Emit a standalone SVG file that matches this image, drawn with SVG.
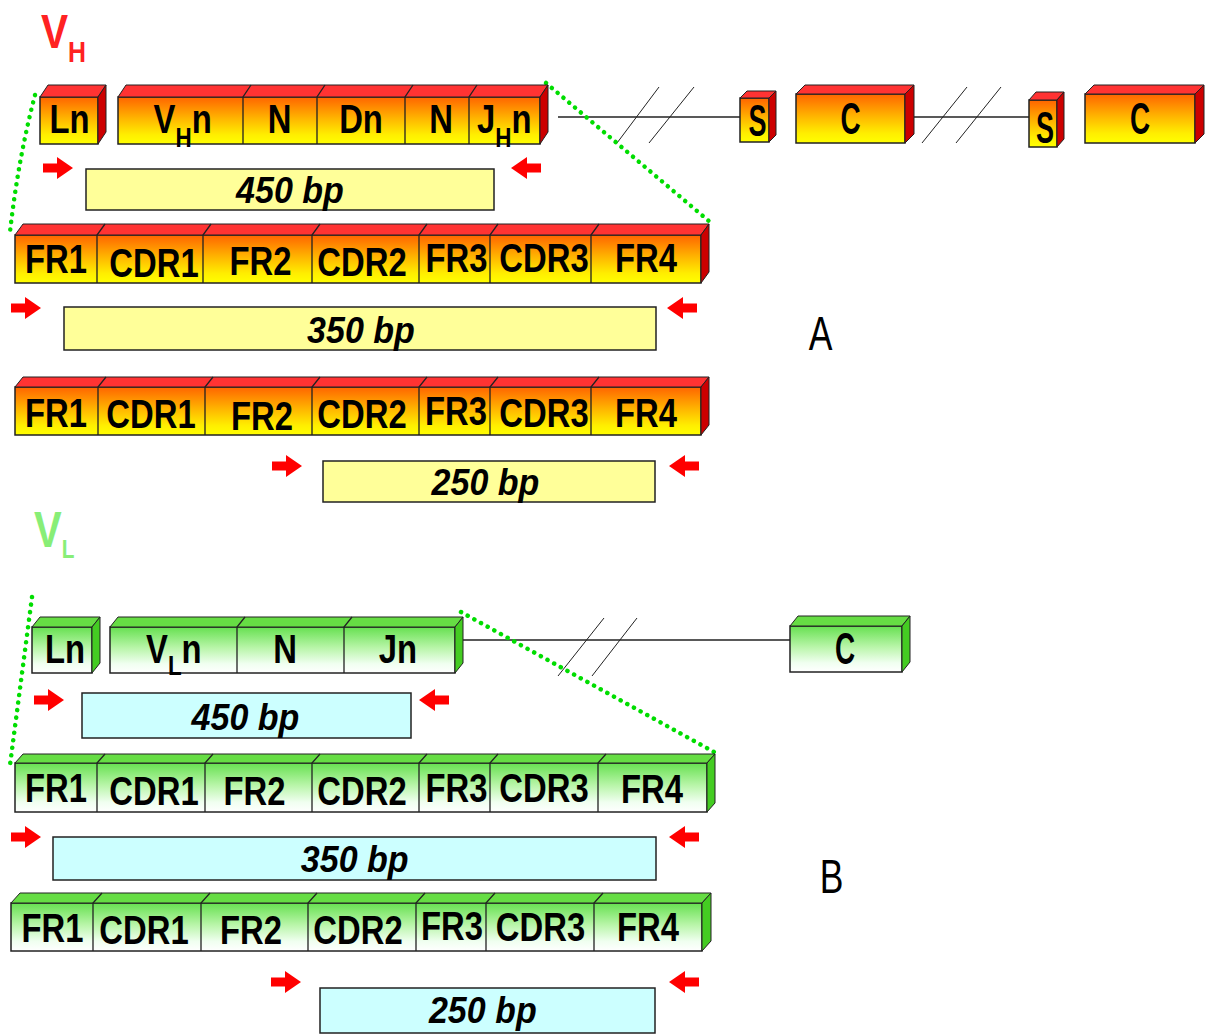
<svg xmlns="http://www.w3.org/2000/svg" xmlns:xlink="http://www.w3.org/1999/xlink" width="1209" height="1035" viewBox="0 0 1209 1035">
<defs>
<linearGradient id="gR" x1="0" y1="0" x2="0" y2="1">
<stop offset="0" stop-color="#ff6400"/><stop offset="0.45" stop-color="#ffb400"/><stop offset="0.8" stop-color="#ffee00"/><stop offset="1" stop-color="#ffff00"/>
</linearGradient>
<linearGradient id="gG" x1="0" y1="0" x2="0" y2="1">
<stop offset="0" stop-color="#66e050"/><stop offset="0.45" stop-color="#b8f5a8"/><stop offset="0.8" stop-color="#f0fff0"/><stop offset="1" stop-color="#ffffff"/>
</linearGradient>
<path id="arR" d="M0,-4.5 H14 V-11 L30,0 L14,11 V4.5 H0 Z" fill="#ff0000"/>
<path id="arL" d="M30,-4.5 H16 V-11 L0,0 L16,11 V4.5 H30 Z" fill="#ff0000"/>
<style>
.fr{fill:url(#gR);stroke:#222;stroke-width:1.5}
.tr{fill:#ff3333;stroke:#222;stroke-width:1}
.sr{fill:#cc0000;stroke:#222;stroke-width:1}
.fg{fill:url(#gG);stroke:#222;stroke-width:1.5}
.tg{fill:#66dd44;stroke:#222;stroke-width:1}
.sg{fill:#44cc22;stroke:#222;stroke-width:1}
.dv{stroke:#222;stroke-width:1.3;fill:none}
.lb{font-family:"Liberation Sans",Arial,sans-serif;font-weight:bold;font-size:41px;text-anchor:middle;fill:#000}
.ls{font-family:"Liberation Sans",Arial,sans-serif;font-weight:bold;font-size:41px;text-anchor:start;fill:#000}
.sc{font-size:45px}
.sub{font-size:28px}
.bp{font-family:"Liberation Sans",Arial,sans-serif;font-weight:bold;font-style:italic;font-size:37px;text-anchor:middle;fill:#000}
.yb{fill:#ffff99;stroke:#222;stroke-width:1.5}
.cb{fill:#ccffff;stroke:#222;stroke-width:1.5}
.ln{stroke:#222;stroke-width:1.3;fill:none}
.sl{stroke:#222;stroke-width:1;fill:none}
.dot{stroke:#00dd00;stroke-width:4.5;stroke-linecap:round;stroke-dasharray:0.1 7.5;fill:none}
.big{font-family:"Liberation Sans",Arial,sans-serif;font-size:48px;text-anchor:middle;fill:#000}
</style>
</defs>
<rect width="1209" height="1035" fill="#ffffff"/>

<!-- titles -->
<g id="title-vh">
<text transform="translate(41 48) scale(0.83 1)" style="font-family:'Liberation Sans',Arial,sans-serif;font-weight:bold;font-size:49px;fill:#ff2222">V<tspan style="font-size:30px" dy="14">H</tspan></text>
</g>
<g id="title-vl">
<text transform="translate(34 547) scale(0.83 1)" style="font-family:'Liberation Sans',Arial,sans-serif;font-weight:bold;font-size:50px;fill:#88ee77">V<tspan style="font-size:25px" dy="11">L</tspan></text>
</g>
<g id="label-a"><text class="big" transform="translate(820.5 350) scale(0.74 1)">A</text></g>
<g id="label-b"><text class="big" transform="translate(831.5 893) scale(0.74 1)">B</text></g>

<!-- connectors -->
<g id="connectors">
<line class="ln" x1="558" y1="117" x2="740" y2="117"/>
<line class="ln" x1="914" y1="117" x2="1029" y2="117"/>
<line class="sl" x1="617" y1="143" x2="659" y2="87"/>
<line class="sl" x1="649" y1="143" x2="694" y2="87"/>
<line class="sl" x1="922" y1="143" x2="967" y2="87"/>
<line class="sl" x1="956" y1="143" x2="1001" y2="87"/>
<line class="ln" x1="463" y1="640" x2="790" y2="640"/>
<line class="sl" x1="558" y1="676" x2="604" y2="618"/>
<line class="sl" x1="592" y1="676" x2="637" y2="618"/>
<path class="dot" d="M35,95 Q18,160 10,232"/>
<line class="dot" x1="546" y1="83" x2="710" y2="222"/>
<line class="dot" x1="32" y1="597" x2="10" y2="765"/>
<line class="dot" x1="461" y1="612" x2="714" y2="752"/>
</g>

<!-- VH gene -->
<g id="vh-ln">
<rect class="fr" x="40" y="97" width="58" height="47"/>
<polygon class="tr" points="40,97 48,85 106,85 98,97"/>
<polygon class="sr" points="98,97 106,85 106,132 98,144"/>
<text class="lb" transform="translate(69.5 133) scale(0.8 1)">Ln</text>
</g>
<g id="vh-vdj">
<rect class="fr" x="118" y="97" width="422" height="47"/>
<polygon class="tr" points="118,97 126,85 548,85 540,97"/>
<polygon class="sr" points="540,97 548,85 548,132 540,144"/>
<path class="dv" d="M243,144V97L251,85M317,144V97L325,85M405,144V97L413,85M469,144V97L477,85"/>
<text class="ls" transform="translate(153.6 133) scale(0.8 1)">V<tspan class="sub" dy="14">H</tspan><tspan dy="-14">n</tspan></text>
<text class="lb" transform="translate(279.5 133) scale(0.8 1)">N</text>
<text class="lb" transform="translate(361 133) scale(0.8 1)">Dn</text>
<text class="lb" transform="translate(441 133) scale(0.8 1)">N</text>
<text class="ls" transform="translate(477 133) scale(0.8 1)">J<tspan class="sub" dy="14">H</tspan><tspan dy="-14">n</tspan></text>
</g>
<g id="vh-s1">
<rect class="fr" x="740" y="98" width="29" height="44"/>
<polygon class="tr" points="740,98 747,91 776,91 769,98"/>
<polygon class="sr" points="769,98 776,91 776,135 769,142"/>
<text class="lb sc" transform="translate(757.5 136) scale(0.6 1)">S</text>
</g>
<g id="vh-c1">
<rect class="fr" x="796" y="94" width="109" height="49"/>
<polygon class="tr" points="796,94 805,85 914,85 905,94"/>
<polygon class="sr" points="905,94 914,85 914,134 905,143"/>
<text class="lb sc" transform="translate(850.5 134) scale(0.62 1)">C</text>
</g>
<g id="vh-s2">
<rect class="fr" x="1029" y="100" width="28" height="47"/>
<polygon class="tr" points="1029,100 1036,92 1064,92 1057,100"/>
<polygon class="sr" points="1057,100 1064,92 1064,139 1057,147"/>
<text class="lb sc" transform="translate(1045 143) scale(0.6 1)">S</text>
</g>
<g id="vh-c2">
<rect class="fr" x="1085" y="94" width="110" height="49"/>
<polygon class="tr" points="1085,94 1094,85 1204,85 1195,94"/>
<polygon class="sr" points="1195,94 1204,85 1204,134 1195,143"/>
<text class="lb sc" transform="translate(1140 134) scale(0.62 1)">C</text>
</g>
<g id="vh-450">
<rect class="yb" x="86" y="169" width="408" height="41"/>
<text class="bp" transform="translate(290 203) scale(0.92 1)">450 bp</text>
</g>

<!-- VH FR row 1 -->
<g id="vh-fr-row1">
<rect class="fr" x="15" y="235" width="686" height="48"/>
<polygon class="tr" points="15,235 23,224 709,224 701,235"/>
<polygon class="sr" points="701,235 709,224 709,272 701,283"/>
<path class="dv" d="M97,283V235L105,224M203,283V235L211,224M312,283V235L320,224M419,283V235L427,224M490,283V235L498,224M591,283V235L599,224"/>
<text class="lb" transform="translate(56 273) scale(0.8 1)">FR1</text>
<text class="lb" transform="translate(154 277) scale(0.8 1)">CDR1</text>
<text class="lb" transform="translate(260.5 275) scale(0.8 1)">FR2</text>
<text class="lb" transform="translate(362 276) scale(0.8 1)">CDR2</text>
<text class="lb" transform="translate(456.5 272) scale(0.8 1)">FR3</text>
<text class="lb" transform="translate(544 272) scale(0.8 1)">CDR3</text>
<text class="lb" transform="translate(646 272) scale(0.8 1)">FR4</text>
</g>
<g id="vh-350">
<rect class="yb" x="64" y="307" width="592" height="43"/>
<text class="bp" transform="translate(361 343) scale(0.92 1)">350 bp</text>
</g>

<!-- VH FR row 2 -->
<g id="vh-fr-row2">
<rect class="fr" x="15" y="387" width="686" height="48"/>
<polygon class="tr" points="15,387 23,377 709,377 701,387"/>
<polygon class="sr" points="701,387 709,377 709,425 701,435"/>
<path class="dv" d="M98,435V387L106,377M205,435V387L213,377M312,435V387L320,377M419,435V387L427,377M490,435V387L498,377M591,435V387L599,377"/>
<text class="lb" transform="translate(56 427) scale(0.8 1)">FR1</text>
<text class="lb" transform="translate(151 428) scale(0.8 1)">CDR1</text>
<text class="lb" transform="translate(262 430) scale(0.8 1)">FR2</text>
<text class="lb" transform="translate(362 428) scale(0.8 1)">CDR2</text>
<text class="lb" transform="translate(456 425) scale(0.8 1)">FR3</text>
<text class="lb" transform="translate(544 427) scale(0.8 1)">CDR3</text>
<text class="lb" transform="translate(646 427) scale(0.8 1)">FR4</text>
</g>
<g id="vh-250">
<rect class="yb" x="323" y="461" width="332" height="41"/>
<text class="bp" transform="translate(485.5 495) scale(0.92 1)">250 bp</text>
</g>

<!-- VL gene -->
<g id="vl-ln">
<rect class="fg" x="32" y="627" width="60" height="46"/>
<polygon class="tg" points="32,627 40,617 100,617 92,627"/>
<polygon class="sg" points="92,627 100,617 100,663 92,673"/>
<text class="lb" transform="translate(65 663) scale(0.8 1)">Ln</text>
</g>
<g id="vl-vj">
<rect class="fg" x="110" y="627" width="345" height="46"/>
<polygon class="tg" points="110,627 118,617 463,617 455,627"/>
<polygon class="sg" points="455,627 463,617 463,663 455,673"/>
<path class="dv" d="M237,673V627L245,617M344,673V627L352,617"/>
<text class="ls" transform="translate(146 663) scale(0.8 1)">V<tspan class="sub" dy="12">L</tspan><tspan dy="-12">n</tspan></text>
<text class="lb" transform="translate(285 663) scale(0.8 1)">N</text>
<text class="lb" transform="translate(398 663) scale(0.8 1)">Jn</text>
</g>
<g id="vl-c">
<rect class="fg" x="790" y="626" width="112" height="46"/>
<polygon class="tg" points="790,626 798,616 910,616 902,626"/>
<polygon class="sg" points="902,626 910,616 910,662 902,672"/>
<text class="lb sc" transform="translate(845 664) scale(0.62 1)">C</text>
</g>
<g id="vl-450">
<rect class="cb" x="82" y="693" width="329" height="45"/>
<text class="bp" transform="translate(245.5 730) scale(0.92 1)">450 bp</text>
</g>

<!-- VL FR row 1 -->
<g id="vl-fr-row1">
<rect class="fg" x="15" y="763" width="692" height="49"/>
<polygon class="tg" points="15,763 23,754 715,754 707,763"/>
<polygon class="sg" points="707,763 715,754 715,803 707,812"/>
<path class="dv" d="M97,812V763L105,754M205,812V763L213,754M312,812V763L320,754M419,812V763L427,754M490,812V763L498,754M598,812V763L606,754"/>
<text class="lb" transform="translate(56 802) scale(0.8 1)">FR1</text>
<text class="lb" transform="translate(154 805) scale(0.8 1)">CDR1</text>
<text class="lb" transform="translate(254.5 805) scale(0.8 1)">FR2</text>
<text class="lb" transform="translate(362 805) scale(0.8 1)">CDR2</text>
<text class="lb" transform="translate(456.5 802) scale(0.8 1)">FR3</text>
<text class="lb" transform="translate(544 802) scale(0.8 1)">CDR3</text>
<text class="lb" transform="translate(652 803) scale(0.8 1)">FR4</text>
</g>
<g id="vl-350">
<rect class="cb" x="53" y="837" width="603" height="43"/>
<text class="bp" transform="translate(354.7 872) scale(0.92 1)">350 bp</text>
</g>

<!-- VL FR row 2 -->
<g id="vl-fr-row2">
<rect class="fg" x="11" y="903" width="691" height="48"/>
<polygon class="tg" points="11,903 20,893 711,893 702,903"/>
<polygon class="sg" points="702,903 711,893 711,941 702,951"/>
<path class="dv" d="M93,951V903L102,893M201,951V903L210,893M308,951V903L317,893M416,951V903L425,893M486,951V903L495,893M594,951V903L603,893"/>
<text class="lb" transform="translate(52.5 942) scale(0.8 1)">FR1</text>
<text class="lb" transform="translate(144 944) scale(0.8 1)">CDR1</text>
<text class="lb" transform="translate(251 944) scale(0.8 1)">FR2</text>
<text class="lb" transform="translate(358 944) scale(0.8 1)">CDR2</text>
<text class="lb" transform="translate(452 940) scale(0.8 1)">FR3</text>
<text class="lb" transform="translate(540.5 941) scale(0.8 1)">CDR3</text>
<text class="lb" transform="translate(648 941) scale(0.8 1)">FR4</text>
</g>
<g id="vl-250">
<rect class="cb" x="320" y="988" width="335" height="45"/>
<text class="bp" transform="translate(482.8 1023) scale(0.92 1)">250 bp</text>
</g>

<!-- primer arrows -->
<g id="primers">
<use xlink:href="#arR" x="43" y="168"/>
<use xlink:href="#arL" x="511" y="168"/>
<use xlink:href="#arR" x="11" y="308"/>
<use xlink:href="#arL" x="667" y="308"/>
<use xlink:href="#arR" x="272" y="466"/>
<use xlink:href="#arL" x="669" y="466"/>
<use xlink:href="#arR" x="34" y="700"/>
<use xlink:href="#arL" x="419" y="700"/>
<use xlink:href="#arR" x="11" y="837"/>
<use xlink:href="#arL" x="669" y="837"/>
<use xlink:href="#arR" x="271" y="982"/>
<use xlink:href="#arL" x="669" y="982"/>
</g>
</svg>
